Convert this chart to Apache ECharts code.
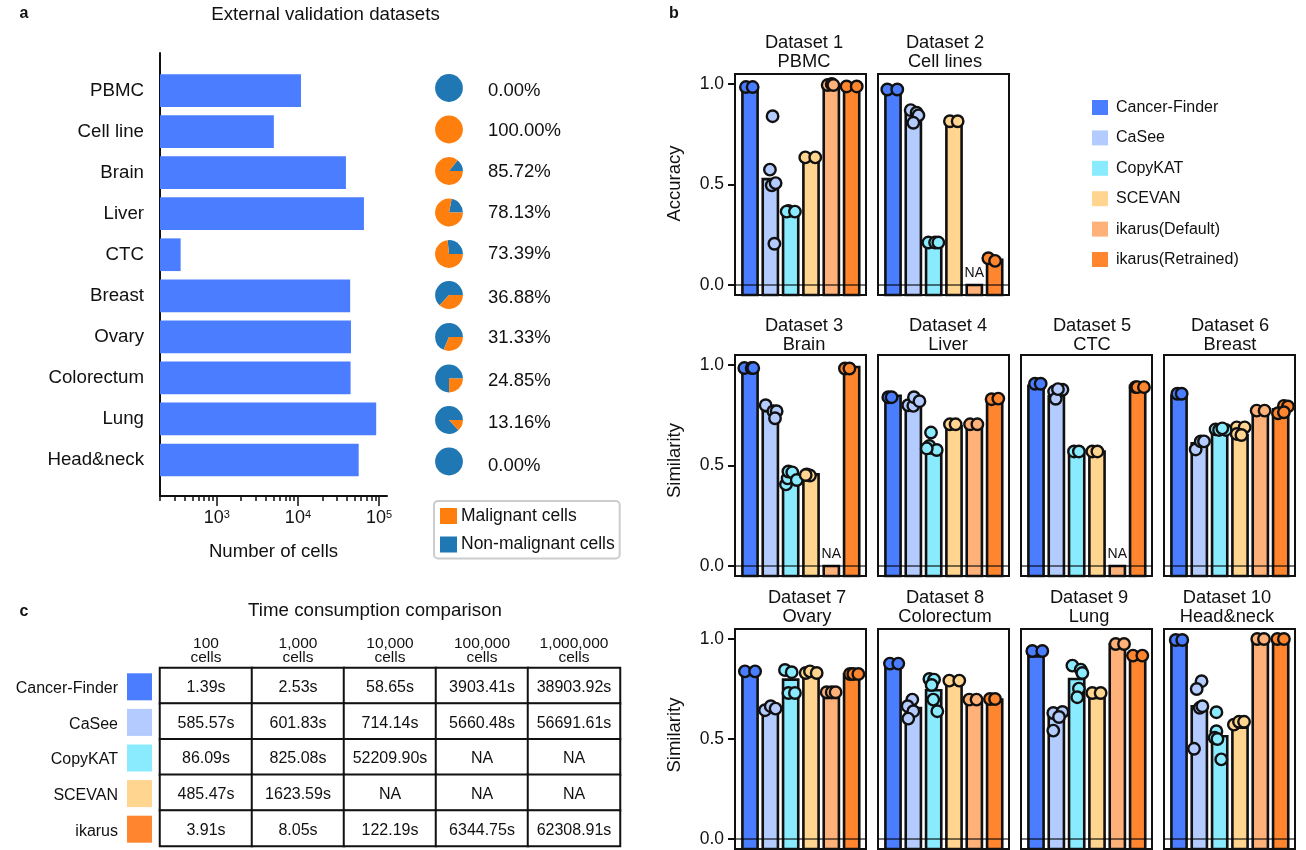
<!DOCTYPE html>
<html lang="en">
<head>
    <meta charset="UTF-8">
    <title>Cancer-Finder validation</title>
    <script src="https://cdn.jsdelivr.net/npm/echarts@6/dist/echarts.min.js"></script>
    <style>
        html, body { margin: 0; padding: 0; background: #fff; }
        #main { width: 1306px; height: 850px; }
    </style>
</head>
<body>
    <div id="main"></div>

    <script>
        // panel a
        var tissues = ['PBMC', 'Cell line', 'Brain', 'Liver', 'CTC', 'Breast', 'Ovary', 'Colorectum', 'Lung', 'Head&neck'];
        var cellCounts = [10900, 5050, 39000, 65000, 359, 44000, 45000, 44500, 92000, 56000];
        var malignantPct = [0, 100, 85.72, 78.13, 73.39, 36.88, 31.33, 24.85, 13.16, 0];
        var pctLabels = ['0.00%', '100.00%', '85.72%', '78.13%', '73.39%', '36.88%', '31.33%', '24.85%', '13.16%', '0.00%'];
        var pieNames = ['Malignant cells', 'Non-malignant cells'];
        var xMajorTicks = [1000, 10000, 100000];
        var xMinorTicks = [200, 300, 400, 500, 600, 700, 800, 900, 2000, 3000, 4000, 5000, 6000, 7000, 8000, 9000,
            20000, 30000, 40000, 50000, 60000, 70000, 80000, 90000];

        // panel b, bar heights per method
        var methods = ['Cancer-Finder', 'CaSee', 'CopyKAT', 'SCEVAN', 'ikarus(Default)', 'ikarus(Retrained)'];
        var bars1 = [0.99, 0.527, 0.355, 0.63, 1, 0.99];
        var bars2 = [0.975, 0.85, 0.205, 0.81, null, 0.125];
        var bars3 = [0.99, 0.77, 0.42, 0.456, null, 0.99];
        var bars4 = [0.847, 0.794, 0.56, 0.695, 0.7, 0.827];
        var bars5 = [0.897, 0.845, 0.57, 0.57, null, 0.897];
        var bars6 = [0.847, 0.61, 0.67, 0.652, 0.76, 0.78];
        var bars7 = [0.83, 0.65, 0.797, 0.83, 0.705, 0.825];
        var bars8 = [0.872, 0.655, 0.744, 0.79, 0.697, 0.697];
        var bars9 = [0.913, 0.605, 0.8, 0.705, 0.975, 0.897];
        var bars10 = [0.997, 0.664, 0.514, 0.556, 1, 1];

        // panel b, single replicates as [method + jitter, value]
        var dots1 = [[-0.2, .985], [0.13, .985], [1.11, .84], [0.98, .574], [1.07, .496], [1.26, .507], [1.2, .205],
            [1.89, .368], [1.8, .365], [2.21, .365], [2.72, .635], [3.21, .635],
            [3.82, .995], [4.02, 1], [4.1, .995], [4.75, .988], [5.25, .988]];
        var dots2 = [[-0.28, .973], [0.21, .973], [0.87, .87], [1.16, .857], [1.25, .844], [1, .807],
            [1.74, .211], [2.07, .211], [2.23, .211], [2.8, .815], [3.18, .815], [4.69, .133], [5.02, .12]];
        var dots3 = [[-0.28, .985], [0.08, .985], [0.16, .985], [0.77, .8], [1.15, .77], [1.31, .77], [1.23, .735],
            [1.77, .406], [1.85, .436], [1.89, .47], [2.08, .466], [2.3, .428],
            [2.79, .455], [2.95, .45], [2.74, .453], [4.67, .983], [4.89, .983]];
        var dots4 = [[-0.23, .84], [-0.07, .84], [0.75, .8], [1, .797], [1.03, .84], [1.3, .82],
            [1.87, .664], [1.79, .597], [2.15, .577], [1.66, .585], [2.8, .705], [3.08, .705],
            [3.79, .705], [4.15, .705], [4.85, .83], [5.18, .833]];
        var dots5 = [[-0.05, .907], [0.23, .907], [1.3, .877], [0.89, .868], [0.97, .832], [1.08, .88],
            [1.87, .57], [2.11, .57], [2.77, .57], [3.02, .57], [4.9, .89], [4.98, .89], [5.31, .89]];
        var dots6 = [[-0.08, .857], [0.13, .857], [0.82, .58], [1.07, .62], [1.23, .62],
            [1.8, .68], [1.97, .677], [2.3, .677], [2.13, .685], [2.84, .69], [3.23, .69], [2.84, .657], [3.07, .652],
            [3.82, .773], [4.21, .773], [5.16, .797], [5.36, .794], [4.87, .76], [5.16, .765]];
        var dots7 = [[-0.25, .838], [0.25, .838], [0.74, .644], [1.02, .664], [1.26, .652],
            [1.72, .845], [2.05, .834], [1.89, .73], [2.21, .73], [2.74, .83], [2.95, .838], [3.28, .83],
            [3.77, .734], [4.02, .734], [4.21, .734], [4.92, .825], [5.08, .825], [5.33, .825]];
        var dots8 = [[-0.15, .877], [0.26, .877], [0.95, .697], [0.72, .664], [1, .639], [0.75, .602],
            [1.79, .8], [2.02, .797], [1.9, .77], [1.98, .697], [2.18, .639], [2.77, .792], [3.26, .792],
            [3.75, .697], [4.11, .697], [4.77, .7], [5.02, .7]];
        var dots9 = [[-0.18, .94], [0.31, .94], [0.85, .63], [1.3, .635], [1.13, .61], [0.85, .542],
            [1.79, .867], [2.2, .847], [2.28, .83], [2.11, .752], [2.03, .709], [2.77, .73], [3.18, .73],
            [3.92, .975], [4.33, .975], [4.77, .917], [5.23, .917]];
        var dots10 = [[-0.16, .995], [0.16, .995], [1.11, .789], [0.87, .75], [1.02, .656], [1.15, .664], [0.74, .451],
            [1.84, .634], [1.84, .539], [1.75, .506], [1.89, .5], [2.08, .398], [2.7, .572], [2.95, .586], [3.2, .586],
            [3.85, 1], [4.18, 1], [4.84, 1], [5.16, 1]];

        var panelLine1 = ['Dataset 1', 'Dataset 2', 'Dataset 3', 'Dataset 4', 'Dataset 5', 'Dataset 6', 'Dataset 7', 'Dataset 8', 'Dataset 9', 'Dataset 10'];
        var panelLine2 = ['PBMC', 'Cell lines', 'Brain', 'Liver', 'CTC', 'Breast', 'Ovary', 'Colorectum', 'Lung', 'Head&neck'];
        var allBars = [bars1, bars2, bars3, bars4, bars5, bars6, bars7, bars8, bars9, bars10];
        var allDots = [dots1, dots2, dots3, dots4, dots5, dots6, dots7, dots8, dots9, dots10];
        var yTicks = [0, 0.5, 1];
        var barFloor = -0.05; // bars run on below zero down to the frame

        // panel c
        var timeTools = ['Cancer-Finder', 'CaSee', 'CopyKAT', 'SCEVAN', 'ikarus'];
        var timeSizes = ['100\ncells', '1,000\ncells', '10,000\ncells', '100,000\ncells', '1,000,000\ncells'];
        var timeCancerFinder = ['1.39s', '2.53s', '58.65s', '3903.41s', '38903.92s'];
        var timeCaSee = ['585.57s', '601.83s', '714.14s', '5660.48s', '56691.61s'];
        var timeCopyKAT = ['86.09s', '825.08s', '52209.90s', 'NA', 'NA'];
        var timeSCEVAN = ['485.47s', '1623.59s', 'NA', 'NA', 'NA'];
        var timeIkarus = ['3.91s', '8.05s', '122.19s', '6344.75s', '62308.91s'];
        var timeRows = [timeCancerFinder, timeCaSee, timeCopyKAT, timeSCEVAN, timeIkarus];

        // colours and layout
        var FONT = '"Liberation Sans", Arial, sans-serif';
        var INK = '#111';
        var barBlue = '#4a7dff';
        var methodColors = ['#4a7dff', '#b4cbff', '#8aebff', '#ffd58f', '#ffb17a', '#ff862e'];
        var toolColors = ['#4a7dff', '#b4cbff', '#8aebff', '#ffd58f', '#ff862e'];
        var pieBlue = '#1f77b4';
        var pieOrange = '#ff7f0e';
        var pieY = [88, 129.5, 171, 212.5, 254, 295, 337, 378.5, 420, 461.5];
        var pctY = [91, 131, 172, 213, 254, 298, 338, 381, 423, 466];
        var panelLeft = [735, 878, 735, 878, 1021, 1164, 735, 878, 1021, 1164];
        var panelTop = [74, 74, 355, 355, 355, 355, 629, 629, 629, 629];
        var panelTitleX = [804, 945, 804, 948, 1092, 1230, 807, 945, 1089, 1227];
        var panelTitleY = [42.5, 42.5, 326, 326, 326, 326, 598, 598, 598, 598];
        var yNames = { 0: 'Accuracy', 2: 'Similarity', 6: 'Similarity' };
        var yNamePad = { 0: 2, 2: 10, 6: 8 };
        var BAR_W = 15.2;

        var grids = [], xAxes = [], yAxes = [], series = [], graphics = [];

        function addText(text, x, y, size, extra) {
            var style = {
                text: text, x: x, y: y, fill: INK,
                font: (extra && extra.weight ? extra.weight + ' ' : '') + size + 'px ' + FONT,
                textAlign: (extra && extra.align) || 'center',
                textVerticalAlign: 'middle'
            };
            graphics.push({ type: 'text', silent: true, style: style });
        }

        // bar from the frame bottom up to the value, NA bars get a small label on top
        function renderMethodBar(params, api) {
            var k = api.value(0);
            var top = api.coord([k, api.value(1)]);
            var bottom = api.coord([k, barFloor]);
            var rect = {
                type: 'rect',
                shape: { x: top[0] - BAR_W / 2, y: top[1], width: BAR_W, height: bottom[1] - top[1] },
                style: { fill: methodColors[k], stroke: INK, lineWidth: 2.6 }
            };
            if (api.value(2) !== 1) {
                return rect;
            }
            return {
                type: 'group',
                children: [rect, {
                    type: 'text',
                    style: {
                        text: 'NA', x: top[0], y: top[1] - 12, fill: INK, font: '14px ' + FONT,
                        textAlign: 'center', textVerticalAlign: 'middle'
                    }
                }]
            };
        }

        // ---- panel a: bars ----
        grids.push({ left: 160, top: 70, width: 227, height: 410.5 });
        xAxes.push({ type: 'log', gridIndex: 0, min: 200, max: 125000, show: false });
        yAxes.push({
            type: 'category', gridIndex: 0, data: tissues, inverse: true,
            axisLine: { show: false },
            axisTick: { length: 9, alignWithLabel: true, lineStyle: { color: INK, width: 2 } },
            axisLabel: { fontFamily: FONT, fontSize: 18.7, color: INK, margin: 16 }
        });
        series.push({
            type: 'bar', xAxisIndex: 0, yAxisIndex: 0, data: cellCounts, barWidth: 32.7,
            itemStyle: { color: barBlue }, silent: true
        });

        // ---- panel a: spine and log axis, a bit longer than the bars ----
        grids.push({ left: 160, top: 53, width: 227, height: 443 });
        xAxes.push({
            type: 'log', gridIndex: 1, min: 200, max: 125000,
            name: 'Number of cells', nameLocation: 'middle', nameGap: 46,
            nameTextStyle: { fontFamily: FONT, fontSize: 18.6, color: INK },
            axisLine: { show: true, lineStyle: { color: INK, width: 2 } },
            axisTick: { show: true, length: 10, customValues: xMajorTicks, lineStyle: { color: INK, width: 1.5 } },
            axisLabel: {
                show: true, margin: 13, customValues: xMajorTicks,
                formatter: function (v) { return '{b|10}{s|' + Math.round(Math.log10(v)) + '}'; },
                rich: {
                    b: { fontFamily: FONT, fontSize: 18, color: INK },
                    s: { fontFamily: FONT, fontSize: 11, color: INK, verticalAlign: 'top', padding: [0, 0, 6, 0] }
                }
            },
            splitLine: { show: false }
        });
        yAxes.push({
            type: 'value', gridIndex: 1, min: 0, max: 1,
            axisLine: { show: true, onZero: false, lineStyle: { color: INK, width: 2 } },
            axisTick: { show: false }, axisLabel: { show: false }, splitLine: { show: false }
        });
        xAxes.push({
            type: 'log', gridIndex: 1, min: 200, max: 125000, position: 'bottom',
            axisLine: { show: false },
            axisTick: { show: true, length: 5, customValues: xMinorTicks, lineStyle: { color: INK, width: 1.5 } },
            axisLabel: { show: false }, splitLine: { show: false }
        });

        // ---- panel a: pies ----
        malignantPct.forEach(function (p, i) {
            series.push({
                type: 'pie', center: [449, pieY[i]], radius: 13.9, startAngle: 0, clockwise: false,
                silent: true, label: { show: false }, labelLine: { show: false }, animation: false,
                data: [
                    { name: pieNames[1], value: 100 - p, itemStyle: { color: pieBlue } },
                    { name: pieNames[0], value: p, itemStyle: { color: pieOrange } }
                ]
            });
            addText(pctLabels[i], 488, pctY[i], 18.5, { align: 'left' });
        });

        // ---- panel b ----
        allBars.forEach(function (vals, p) {
            var gi = grids.length;
            var isLeft = yNames[p] !== undefined;
            grids.push({
                left: panelLeft[p], top: panelTop[p], width: 131, height: p >= 6 ? 220 : 221,
                show: true, borderColor: INK, borderWidth: 2, backgroundColor: 'transparent'
            });
            xAxes.push({ type: 'value', gridIndex: gi, min: -0.738, max: 5.706, show: false });
            var xi = xAxes.length - 1;
            yAxes.push({
                type: 'value', gridIndex: gi, min: -0.05, max: 1.05,
                name: isLeft ? yNames[p] : '', nameLocation: 'middle', nameGap: 51,
                nameTextStyle: { fontFamily: FONT, fontSize: 18.5, color: INK, padding: [0, 0, 0, yNamePad[p] || 0] },
                axisLine: { show: false, onZero: false }, splitLine: { show: false },
                axisTick: { show: isLeft, length: 7, customValues: yTicks, lineStyle: { color: INK, width: 2 } },
                axisLabel: {
                    show: isLeft, margin: 11, customValues: yTicks, fontFamily: FONT, fontSize: 17.5, color: INK,
                    formatter: function (v) { return v.toFixed(1); }
                }
            });
            var yi = yAxes.length - 1;
            methods.forEach(function (m, k) {
                series.push({
                    type: 'custom', name: m, xAxisIndex: xi, yAxisIndex: yi, silent: true, z: 2,
                    renderItem: renderMethodBar, encode: { x: 0, y: 1 },
                    itemStyle: { color: methodColors[k] },
                    data: [vals[k] === null ? [k, 0, 1] : [k, vals[k], 0]]
                });
            });
            series.push({
                type: 'scatter', name: 'replicates', xAxisIndex: xi, yAxisIndex: yi, clip: false, z: 4, silent: true,
                symbolSize: 11.5,
                data: allDots[p].map(function (d) {
                    return { value: d, itemStyle: { color: methodColors[Math.round(d[0])], borderColor: INK, borderWidth: 2.4, opacity: 1 } };
                }),
                markLine: {
                    silent: true, symbol: 'none', label: { show: false }, animation: false,
                    lineStyle: { color: 'rgba(0,0,0,0.72)', width: 1.5, type: 'solid' },
                    data: [{ yAxis: 0 }]
                }
            });
            addText(panelLine1[p], panelTitleX[p], panelTitleY[p], 18.3);
            addText(panelLine2[p], panelTitleX[p], panelTitleY[p] + 19, 18.3);
        });

        // ---- panel c: table ----
        var tableGrid = grids.length;
        grids.push({ left: 160, top: 668, width: 460, height: 178 });
        xAxes.push({
            type: 'category', gridIndex: tableGrid, data: timeSizes, position: 'top',
            axisLine: { show: false }, axisTick: { show: false },
            axisLabel: { fontFamily: FONT, fontSize: 15.5, color: INK, lineHeight: 14, margin: 3, interval: 0 }
        });
        yAxes.push({
            type: 'category', gridIndex: tableGrid, data: timeTools, inverse: true,
            axisLine: { show: false }, axisTick: { show: false }, axisLabel: { show: false }
        });
        var cells = [];
        timeRows.forEach(function (row, r) {
            row.forEach(function (t, c) { cells.push([c, r, 1]); });
        });
        series.push({
            type: 'heatmap', xAxisIndex: xAxes.length - 1, yAxisIndex: yAxes.length - 1, data: cells, silent: true,
            itemStyle: { color: '#fff', borderColor: INK, borderWidth: 2 },
            label: {
                show: true, fontFamily: FONT, fontSize: 16, color: INK, offset: [0, 2],
                formatter: function (p) { return timeRows[p.value[1]][p.value[0]]; }
            }
        });

        // colour keys and row names, sitting slightly lower than the table rows
        var keyGrid = grids.length;
        grids.push({ left: 127, top: 671, width: 25, height: 178 });
        xAxes.push({ type: 'category', gridIndex: keyGrid, data: ['key'], show: false });
        yAxes.push({
            type: 'category', gridIndex: keyGrid, data: timeTools, inverse: true,
            axisLine: { show: false }, axisTick: { show: false },
            axisLabel: { fontFamily: FONT, fontSize: 16, color: INK, margin: 9 }
        });
        series.push({
            type: 'scatter', xAxisIndex: xAxes.length - 1, yAxisIndex: yAxes.length - 1, silent: true,
            symbol: 'rect', symbolSize: [25, 27], symbolOffset: [0, -2],
            data: timeTools.map(function (t, i) {
                return { value: ['key', t], itemStyle: { color: toolColors[i], opacity: 1 } };
            })
        });

        addText('External validation datasets', 325.5, 15, 18.7);
        addText('Time consumption comparison', 375, 611, 18.7);
        addText('a', 24, 14, 16, { weight: 'bold' });
        addText('b', 674, 14, 16, { weight: 'bold' });
        addText('c', 24, 612, 16, { weight: 'bold' });

        var mychart = echarts.init(document.getElementById('main'));
        mychart.setOption({
            animation: false,
            backgroundColor: '#fff',
            grid: grids,
            xAxis: xAxes,
            yAxis: yAxes,
            series: series,
            graphic: graphics,
            legend: [{
                data: pieNames, left: 434, top: 501, orient: 'vertical', selectedMode: false,
                icon: 'rect', itemWidth: 17, itemHeight: 16, itemGap: 10.5, padding: [6, 5, 5, 6],
                borderColor: '#ccc', borderWidth: 2, borderRadius: 4,
                textStyle: { fontFamily: FONT, fontSize: 17.5, color: INK, padding: [0, 0, 0, -1] }
            }, {
                data: methods, left: 1092, top: 99.5, orient: 'vertical', selectedMode: false,
                icon: 'rect', itemWidth: 16, itemHeight: 15, itemGap: 14.4, padding: 0,
                itemStyle: { borderWidth: 0 },
                textStyle: { fontFamily: FONT, fontSize: 16, color: INK, padding: [0, 0, 0, 3] }
            }]
        });
    </script>
</body>
</html>
